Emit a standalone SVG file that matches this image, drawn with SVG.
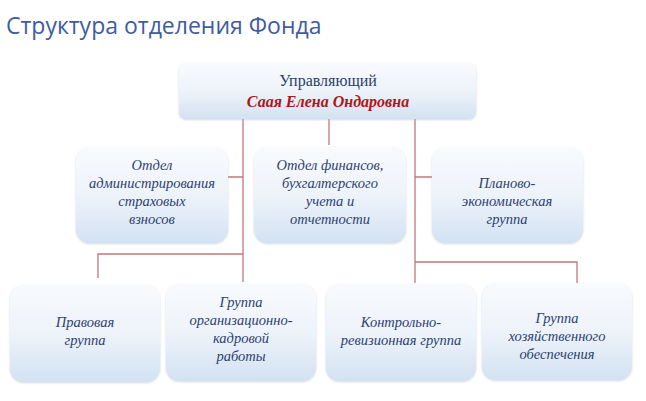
<svg xmlns="http://www.w3.org/2000/svg" width="646" height="401" viewBox="0 0 646 401">
<defs>
<linearGradient id="g" x1="0" y1="0" x2="0" y2="1">
<stop offset="0" stop-color="#f8fafd"/><stop offset="0.5" stop-color="#eef3fa"/><stop offset="1" stop-color="#d3e2f2"/>
</linearGradient>
<filter id="s" x="-10%" y="-10%" width="120%" height="130%"><feDropShadow dx="0" dy="1" stdDeviation="1.2" flood-color="#9fb3cc" flood-opacity="0.5"/></filter>
</defs>
<style>
.b{fill:url(#g);filter:url(#s)}
.t{font-family:"Liberation Serif",serif;font-style:italic;font-size:14.5px;fill:#2d4270;text-anchor:middle}
.c{stroke:#c0797b;stroke-width:1.3;fill:none}
</style>
<rect width="646" height="401" fill="#fff"/>
<text x="6" y="34" font-family="Open Sans, sans-serif" font-size="23" fill="#3f5c9e">Структура отделения Фонда</text>
<g id="connectors">
<path class="c" d="M243 119V282M228 177H243M98 278V254H243"/>
<path class="c" d="M329 119V145"/>
<path class="c" d="M415 119V283M415 177H432M415 262H577V286"/>
</g>
<g id="top"><rect class="b" x="179" y="63" width="297" height="56" rx="7"/>
<text x="328" y="86" font-family="Liberation Serif,serif" font-size="16" fill="#2d3f66" text-anchor="middle">Управляющий</text>
<text x="328" y="107" font-family="Liberation Serif,serif" font-size="16" font-style="italic" font-weight="bold" fill="#b0141a" text-anchor="middle">Саая Елена Ондаровна</text></g>
<g id="n1"><rect class="b" x="76" y="147" width="152" height="96" rx="14"/>
<text class="t" x="152"><tspan x="152" y="170">Отдел</tspan><tspan x="152" y="188">администрирования</tspan><tspan x="152" y="206">страховых</tspan><tspan x="152" y="224">взносов</tspan></text></g>
<g id="n2"><rect class="b" x="254" y="147" width="152" height="96" rx="14"/>
<text class="t"><tspan x="330" y="170">Отдел финансов,</tspan><tspan x="330" y="188">бухгалтерского</tspan><tspan x="330" y="206">учета и</tspan><tspan x="330" y="224">отчетности</tspan></text></g>
<g id="n3"><rect class="b" x="432" y="147" width="151" height="96" rx="14"/>
<text class="t"><tspan x="507" y="188">Планово-</tspan><tspan x="507" y="206">экономическая</tspan><tspan x="507" y="224">группа</tspan></text></g>
<g id="n4"><rect class="b" x="10" y="285" width="150" height="97" rx="14"/>
<text class="t"><tspan x="85" y="327">Правовая</tspan><tspan x="85" y="345">группа</tspan></text></g>
<g id="n5"><rect class="b" x="166" y="284" width="150" height="97" rx="14"/>
<text class="t"><tspan x="241" y="307">Группа</tspan><tspan x="241" y="325">организационно-</tspan><tspan x="241" y="343">кадровой</tspan><tspan x="241" y="361">работы</tspan></text></g>
<g id="n6"><rect class="b" x="326" y="284" width="150" height="97" rx="14"/>
<text class="t"><tspan x="401" y="327">Контрольно-</tspan><tspan x="401" y="345">ревизионная группа</tspan></text></g>
<g id="n7"><rect class="b" x="482" y="283" width="150" height="97" rx="14"/>
<text class="t"><tspan x="557" y="323">Группа</tspan><tspan x="557" y="341">хозяйственного</tspan><tspan x="557" y="359">обеспечения</tspan></text></g>
</svg>
